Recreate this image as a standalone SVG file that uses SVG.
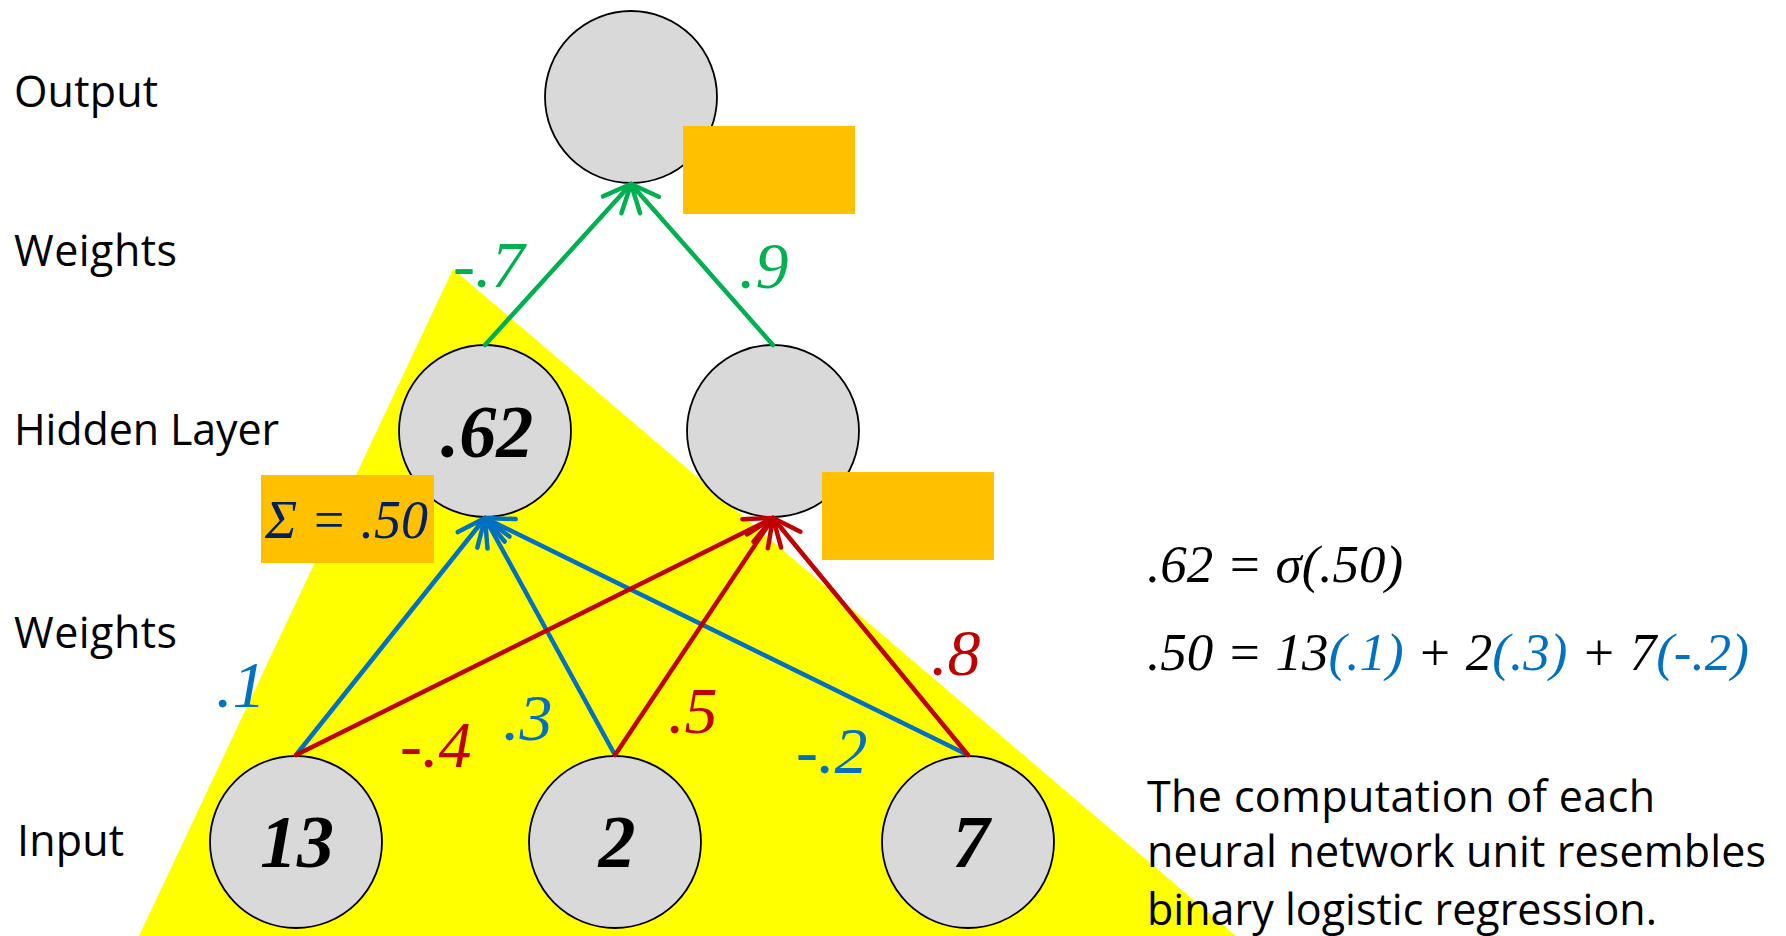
<svg xmlns="http://www.w3.org/2000/svg" width="1786" height="936" viewBox="0 0 1786 936">
<style>
.lbl{font-family:"Open Sans","Noto Sans",sans-serif;font-size:43px;fill:#000}
.node{fill:#D9D9D9;stroke:#000;stroke-width:1.8}
.num{font-family:"Liberation Serif",serif;font-style:italic;font-weight:bold;font-size:74px;fill:#000;text-anchor:middle}
.w{font-family:"Liberation Serif",serif;font-style:italic;font-size:66px}
.eq{font-family:"Liberation Serif",serif;font-style:italic;font-size:53px;fill:#000}
.g{stroke:#00B050;fill:none;stroke-width:4.5}
.b{stroke:#0070C0;fill:none;stroke-width:4.5}
.r{stroke:#C00000;fill:none;stroke-width:4.5}
.box{fill:#FFC000}
.head{fill:none;stroke-width:4.5;stroke-linecap:round;stroke-linejoin:round}
</style>
<defs>
<marker id="ag" viewBox="-3 -3 35 32" refX="28" refY="12.5" markerWidth="35" markerHeight="32" markerUnits="userSpaceOnUse" orient="auto"><path class="head" d="M0,0 L28,12.5 L0,25" stroke="#00B050"/></marker>
<marker id="ab" viewBox="-3 -3 35 32" refX="28" refY="12.5" markerWidth="35" markerHeight="32" markerUnits="userSpaceOnUse" orient="auto"><path class="head" d="M0,0 L28,12.5 L0,25" stroke="#0070C0"/></marker>
<marker id="ar" viewBox="-3 -3 35 32" refX="28" refY="12.5" markerWidth="35" markerHeight="32" markerUnits="userSpaceOnUse" orient="auto"><path class="head" d="M0,0 L28,12.5 L0,25" stroke="#C00000"/></marker>
</defs>
<rect width="1786" height="936" fill="#fff"/>
<polygon points="453,269 139,936 1236,936" fill="#FFFF00"/>
<g id="labels">
<text class="lbl" x="14" y="107" textLength="144">Output</text>
<text class="lbl" x="14" y="266" textLength="163">Weights</text>
<text class="lbl" x="14" y="445" textLength="265">Hidden Layer</text>
<text class="lbl" x="14" y="648" textLength="163">Weights</text>
<text class="lbl" x="17" y="856" textLength="107">Input</text>
</g>
<g id="node-output"><circle class="node" cx="631" cy="97" r="86"/></g>
<g id="node-h1"><circle class="node" cx="485" cy="431" r="86"/><text class="num" x="487" y="457">.62</text></g>
<g id="node-h2"><circle class="node" cx="773" cy="431" r="86"/></g>
<g id="node-i1"><circle class="node" cx="296" cy="842" r="86"/><text class="num" x="297" y="867">13</text></g>
<g id="node-i2"><circle class="node" cx="615" cy="842" r="86"/><text class="num" x="617" y="867">2</text></g>
<g id="node-i3"><circle class="node" cx="968" cy="842" r="86"/><text class="num" x="971" y="867">7</text></g>
<g id="connectors" stroke-linecap="round">
<line class="g" x1="485" y1="345" x2="631" y2="184" marker-end="url(#ag)"/>
<line class="g" x1="773" y1="345" x2="631" y2="184" marker-end="url(#ag)"/>
<line class="b" x1="296" y1="755" x2="485" y2="518" marker-end="url(#ab)"/>
<line class="b" x1="615" y1="755" x2="485" y2="518" marker-end="url(#ab)"/>
<line class="b" x1="968" y1="755" x2="485" y2="518" marker-end="url(#ab)"/>
<line class="r" x1="296" y1="755" x2="773" y2="518" marker-end="url(#ar)"/>
<line class="r" x1="615" y1="755" x2="773" y2="518" marker-end="url(#ar)"/>
<line class="r" x1="968" y1="755" x2="773" y2="518" marker-end="url(#ar)"/>
</g>
<g id="box-out"><rect class="box" x="683" y="126" width="172" height="88"/></g>
<g id="box-h1"><rect class="box" x="261" y="475" width="173" height="88"/><text x="265" y="538" font-family="Liberation Serif,serif" font-style="italic" font-size="54" fill="#002060">Σ = .50</text></g>
<g id="box-h2"><rect class="box" x="822" y="472" width="172" height="88"/></g>
<g id="weights">
<text class="w" x="453" y="287" fill="#00B050">-.7</text>
<text class="w" x="739" y="288" fill="#00B050">.9</text>
<text class="w" x="216" y="707" fill="#0070C0">.1</text>
<text class="w" x="400" y="767" fill="#C00000">-.4</text>
<text class="w" x="503" y="740" fill="#0070C0">.3</text>
<text class="w" x="668" y="733" fill="#C00000">.5</text>
<text class="w" x="796" y="773" fill="#0070C0">-.2</text>
<text class="w" x="931" y="675" fill="#C00000">.8</text>
</g>
<g id="equations">
<text class="eq" x="1147" y="582">.62 = σ(.50)</text>
<text class="eq" x="1147" y="670">.50 = 13<tspan fill="#0070C0">(.1)</tspan> + 2<tspan fill="#0070C0">(.3)</tspan> + 7<tspan fill="#0070C0">(-.2)</tspan></text>
</g>
<g id="caption">
<text class="lbl" x="1147" y="812" textLength="508">The computation of each</text>
<text class="lbl" x="1147" y="867" textLength="619">neural network unit resembles</text>
<text class="lbl" x="1147" y="925" textLength="510">binary logistic regression.</text>
</g>
</svg>
